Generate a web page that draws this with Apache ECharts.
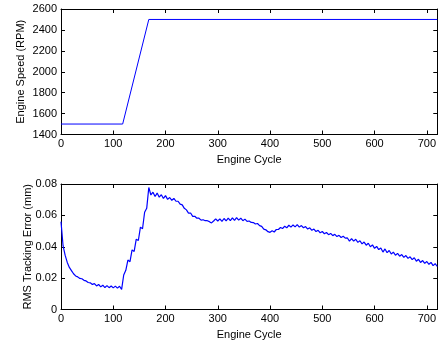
<!DOCTYPE html>
<html>
<head>
<meta charset="utf-8">
<script src="https://cdn.jsdelivr.net/npm/echarts@6/dist/echarts.min.js"></script>
<style>
html,body{margin:0;padding:0;background:#fff;}
#c{width:439px;height:346px;}
</style>
</head>
<body>
<div id="c"></div>
<script>
// Engine speed profile (top)
var speedCycles = [0, 118, 168, 720];
var speedRPM = [1500, 1500, 2500, 2500];

// RMS tracking error (bottom), read every 4 cycles
var errCycles = [];
for (var c = 0; c <= 720; c += 4) errCycles.push(c);
var errMM = [
0.0560,0.0405,0.0345,0.0300,0.0268,0.0248,0.0228,0.0214,0.0208,0.0198,
0.0196,0.0186,0.0182,0.0172,0.0170,0.0160,0.0165,0.0150,0.0160,0.0144,
0.0155,0.0140,0.0152,0.0139,0.0150,0.0138,0.0149,0.0136,0.0148,0.0128,
0.0220,0.0250,0.0315,0.0305,0.0380,0.0370,0.0448,0.0440,0.0525,0.0515,
0.0620,0.0645,0.0778,0.0730,0.0748,0.0720,0.0742,0.0716,0.0732,0.0708,
0.0726,0.0702,0.0714,0.0696,0.0708,0.0690,0.0690,0.0672,0.0667,0.0645,
0.0635,0.0614,0.0615,0.0594,0.0594,0.0582,0.0582,0.0570,0.0572,0.0566,
0.0566,0.0560,0.0552,0.0564,0.0578,0.0564,0.0578,0.0562,0.0580,0.0565,
0.0582,0.0566,0.0584,0.0568,0.0586,0.0570,0.0582,0.0566,0.0576,0.0562,
0.0564,0.0555,0.0554,0.0545,0.0548,0.0535,0.0530,0.0512,0.0508,0.0496,
0.0492,0.0502,0.0494,0.0510,0.0510,0.0523,0.0516,0.0531,0.0521,0.0537,
0.0525,0.0539,0.0527,0.0541,0.0525,0.0535,0.0521,0.0529,0.0513,0.0521,
0.0505,0.0513,0.0497,0.0505,0.0489,0.0497,0.0483,0.0491,0.0477,0.0485,
0.0471,0.0479,0.0465,0.0473,0.0459,0.0467,0.0455,0.0456,0.0436,0.0452,
0.0436,0.0448,0.0428,0.0438,0.0418,0.0430,0.0410,0.0422,0.0400,0.0412,
0.0390,0.0402,0.0382,0.0392,0.0366,0.0386,0.0362,0.0376,0.0354,0.0366,
0.0346,0.0358,0.0340,0.0350,0.0332,0.0344,0.0326,0.0336,0.0318,0.0330,
0.0308,0.0320,0.0300,0.0312,0.0294,0.0306,0.0288,0.0300,0.0280,0.0292,
0.0274
];

var speedTicks = {min: 1400, max: 2600, interval: 200};
var errTicks = {min: 0, max: 0.08, interval: 0.02};
var cycleTicks = {min: 0, max: 720, interval: 100};

function pairs(xs, ys) { return xs.map(function (x, i) { return [x, ys[i]]; }); }

var FONT = 'Liberation Sans, Arial, sans-serif';
var lineStyle = {color: '#000', width: 1};
function xAxis(gi) {
  return {
    type: 'value', gridIndex: gi, min: cycleTicks.min, max: cycleTicks.max, interval: cycleTicks.interval,
    name: 'Engine Cycle', nameLocation: 'middle', nameGap: 20, nameMoveOverlap: false,
    nameTextStyle: {color: '#000', fontSize: 11, fontFamily: FONT},
    axisLine: {show: true, onZero: false, lineStyle: lineStyle},
    axisTick: {show: true, inside: true, length: 4, lineStyle: lineStyle},
    axisLabel: {color: '#000', fontSize: 11, fontFamily: FONT, margin: 4},
    splitLine: {show: false}
  };
}
function xAxisTop(gi) {
  return {
    type: 'value', gridIndex: gi, position: 'top', min: cycleTicks.min, max: cycleTicks.max, interval: cycleTicks.interval,
    axisLine: {show: true, onZero: false, lineStyle: lineStyle},
    axisTick: {show: true, inside: true, length: 4, lineStyle: lineStyle},
    axisLabel: {show: false}, splitLine: {show: false}
  };
}
function yAxis(gi, t, name, gap, fmt) {
  return {
    type: 'value', gridIndex: gi, min: t.min, max: t.max, interval: t.interval,
    name: name, nameLocation: 'middle', nameGap: gap, nameMoveOverlap: false,
    nameTextStyle: {color: '#000', fontSize: 11, fontFamily: FONT},
    axisLine: {show: true, onZero: false, lineStyle: lineStyle},
    axisTick: {show: true, inside: true, length: 4, lineStyle: lineStyle},
    axisLabel: {color: '#000', fontSize: 11, fontFamily: FONT, margin: 4, formatter: fmt},
    splitLine: {show: false}
  };
}
function yAxisRight(gi, t) {
  return {
    type: 'value', gridIndex: gi, position: 'right', min: t.min, max: t.max, interval: t.interval,
    axisLine: {show: true, onZero: false, lineStyle: lineStyle},
    axisTick: {show: true, inside: true, length: 4, lineStyle: lineStyle},
    axisLabel: {show: false}, splitLine: {show: false}
  };
}

var chart = echarts.init(document.getElementById('c'), null, {renderer: 'canvas'});
chart.setOption({
  animation: false,
  backgroundColor: '#fff',
  grid: [
    {left: 61, top: 9, width: 380, height: 125.5},
    {left: 61, top: 184, width: 380, height: 125.5}
  ],
  xAxis: [xAxis(0), xAxis(1), xAxisTop(0), xAxisTop(1)],
  yAxis: [
    yAxis(0, speedTicks, 'Engine Speed (RPM)', 35, function (v) { return String(v); }),
    yAxis(1, errTicks, 'RMS Tracking Error (mm)', 28, function (v) { return v === 0 ? '0' : v.toFixed(2); }),
    yAxisRight(0, speedTicks), yAxisRight(1, errTicks)
  ],
  series: [
    {type: 'line', xAxisIndex: 0, yAxisIndex: 0, data: pairs(speedCycles, speedRPM), showSymbol: false,
      lineStyle: {color: '#0000ff', width: 1}},
    {type: 'line', xAxisIndex: 1, yAxisIndex: 1, data: pairs(errCycles, errMM), showSymbol: false,
      lineStyle: {color: '#0000ff', width: 1.2}}
  ]
});
</script>
</body>
</html>
